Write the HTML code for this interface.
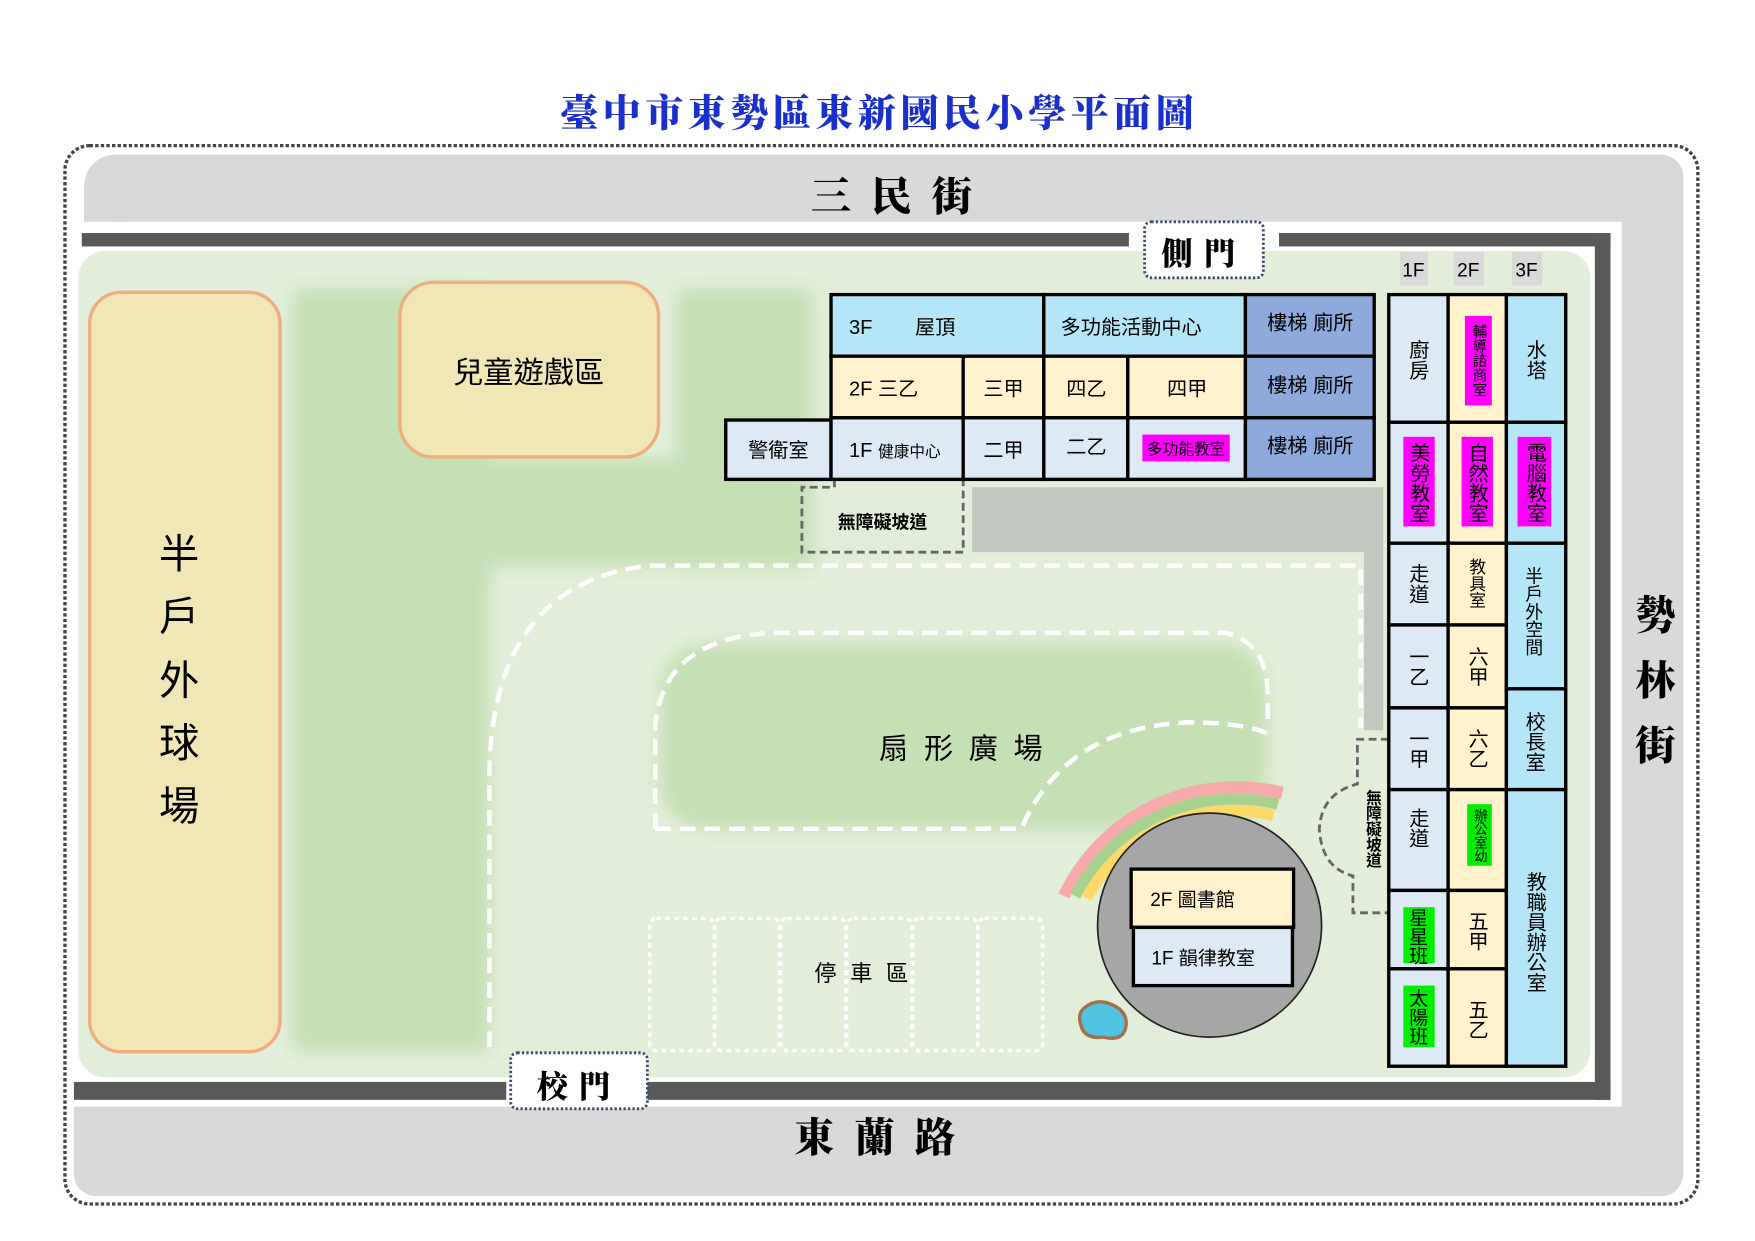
<!DOCTYPE html>
<html><head><meta charset="utf-8">
<style>
html,body{margin:0;padding:0;background:#fff;}
svg{display:block;}
text{font-family:"Liberation Sans","Noto Sans CJK TC",sans-serif;fill:#000;}
.b{font-family:"Liberation Serif","Noto Serif CJK SC",serif;font-weight:900;}
.v{writing-mode:vertical-rl;text-anchor:middle;}
</style></head><body>
<svg width="1755" height="1241" viewBox="0 0 1567 1108" xmlns="http://www.w3.org/2000/svg">
<defs>
<filter id="bl" x="-20%" y="-20%" width="140%" height="140%"><feGaussianBlur stdDeviation="8"/></filter>
</defs>
<rect width="1567" height="1108" fill="#fff"/>
<text x="785" y="113" class="b" font-size="34" style="fill:#1a2fcc" text-anchor="middle" letter-spacing="4">臺中市東勢區東新國民小學平面圖</text>
<rect x="58" y="130" width="1458" height="945" rx="22" fill="none" stroke="#444" stroke-width="3" stroke-dasharray="3 2"/>
<rect x="75" y="138" width="1428" height="60" rx="28" fill="#d9d9d9"/>
<rect x="75" y="170" width="40" height="28" fill="#d9d9d9"/>
<rect x="1448" y="138" width="55" height="930" rx="20" fill="#d9d9d9"/>
<rect x="66" y="988" width="1437" height="80" rx="20" fill="#d9d9d9"/>
<rect x="66" y="988" width="40" height="40" fill="#d9d9d9"/>
<text x="805" y="188" class="b" font-size="36" text-anchor="middle" letter-spacing="18">三民街</text>
<text x="790" y="1028" class="b" font-size="36" text-anchor="middle" letter-spacing="18">東蘭路</text>
<text x="1478" y="562" class="b" font-size="36" text-anchor="middle">勢</text>
<text x="1478" y="620" class="b" font-size="36" text-anchor="middle">林</text>
<text x="1478" y="678" class="b" font-size="36" text-anchor="middle">街</text>
<rect x="73" y="208" width="935" height="12" fill="#595959"/>
<rect x="1142" y="208" width="296" height="12" fill="#595959"/>
<rect x="1424" y="208" width="14" height="774" fill="#595959"/>
<rect x="66" y="966" width="386" height="16" fill="#595959"/>
<rect x="578" y="966" width="860" height="16" fill="#595959"/>
<rect x="70" y="224" width="1350" height="738" rx="24" fill="#e2eed9"/>
<g filter="url(#bl)" fill="#c5e0b4">
<rect x="262" y="258" width="175" height="680"/>
<rect x="340" y="410" width="380" height="95"/>
<rect x="605" y="258" width="120" height="250"/>
<rect x="590" y="575" width="540" height="165" rx="40"/>
</g>
<rect x="80" y="261" width="170" height="678" rx="28" fill="#f0e6b6" stroke="#eeae7f" stroke-width="3"/>
<g font-size="36" text-anchor="middle">
<text x="160" y="507">半</text><text x="160" y="563">戶</text><text x="160" y="620">外</text><text x="160" y="676">球</text><text x="160" y="732">場</text>
</g>
<rect x="357" y="252" width="231" height="156" rx="30" fill="#f0e6b6" stroke="#eeae7f" stroke-width="3"/>
<text x="472" y="342" font-size="27" text-anchor="middle">兒童遊戲區</text>
<g fill="none" stroke="#fff" stroke-width="4" stroke-dasharray="14 8">
<path d="M437 935 L437 690 Q440 520 580 505 L1215 505 L1215 650"/>
<path d="M585 740 L585 650 Q590 570 690 565 L1095 565 Q1132 575 1132 620 L1132 648"/>
<path d="M585 740 L912 740 Q950 650 1060 645 Q1110 645 1132 655"/>
</g>
<g fill="none" stroke="#fff" stroke-width="3" stroke-dasharray="4 4">
<rect x="580" y="820" width="58" height="118" rx="6"/>
<rect x="638" y="820" width="58" height="118" rx="6"/>
<rect x="697" y="820" width="58" height="118" rx="6"/>
<rect x="756" y="820" width="58" height="118" rx="6"/>
<rect x="815" y="820" width="58" height="118" rx="6"/>
<rect x="873" y="820" width="58" height="118" rx="6"/>
</g>
<text x="775" y="876" font-size="20" text-anchor="middle" letter-spacing="12">停車區</text>
<text x="865" y="677" font-size="26" text-anchor="middle" letter-spacing="14">扇形廣場</text>
<rect x="868" y="435" width="367" height="58" fill="#c0c8bf"/>
<rect x="1218" y="493" width="17" height="159" fill="#c0c8bf"/>
<path d="M745 428 L745 435 L716 435 L716 493 L860 493 L860 428" fill="none" stroke="#666" stroke-width="2.5" stroke-dasharray="7 4"/>
<text x="788" y="472" font-size="16" text-anchor="middle" font-weight="bold">無障礙坡道</text>
<path d="M1240 660 L1212 660 L1212 700 Q1180 708 1178 740 Q1180 775 1208 782 L1208 815 L1240 815" fill="none" stroke="#666" stroke-width="2.5" stroke-dasharray="7 4"/>
<text x="1225" y="740" font-size="14" class="v" font-weight="bold">無障礙坡道</text>
<g stroke="#000" stroke-width="3">
<rect x="742" y="263" width="190" height="55" fill="#b4e6f8"/>
<rect x="932" y="263" width="180" height="55" fill="#b4e6f8"/>
<rect x="1112" y="263" width="115" height="55" fill="#8eaadb"/>
<rect x="742" y="318" width="118" height="55" fill="#fff2cc"/>
<rect x="860" y="318" width="72" height="55" fill="#fff2cc"/>
<rect x="932" y="318" width="75" height="55" fill="#fff2cc"/>
<rect x="1007" y="318" width="105" height="55" fill="#fff2cc"/>
<rect x="1112" y="318" width="115" height="55" fill="#8eaadb"/>
<rect x="648" y="375" width="94" height="53" fill="#dde9f5"/>
<rect x="742" y="373" width="118" height="55" fill="#dde9f5"/>
<rect x="860" y="373" width="72" height="55" fill="#dde9f5"/>
<rect x="932" y="373" width="75" height="55" fill="#dde9f5"/>
<rect x="1007" y="373" width="105" height="55" fill="#dde9f5"/>
<rect x="1112" y="373" width="115" height="55" fill="#8eaadb"/>
</g>
<rect x="1020" y="388" width="78" height="24" fill="#ff00ff"/>
<g font-size="18">
<text x="758" y="298">3F</text><text x="817" y="298">屋頂</text>
<text x="947" y="298">多功能活動中心</text>
<text x="1170" y="294" text-anchor="middle">樓梯 廁所</text>
<text x="758" y="353">2F 三乙</text>
<text x="896" y="353" text-anchor="middle">三甲</text>
<text x="970" y="353" text-anchor="middle">四乙</text>
<text x="1060" y="353" text-anchor="middle">四甲</text>
<text x="1170" y="350" text-anchor="middle">樓梯 廁所</text>
<text x="695" y="408" text-anchor="middle">警衛室</text>
<text x="758" y="408">1F <tspan font-size="14">健康中心</tspan></text>
<text x="896" y="408" text-anchor="middle">二甲</text>
<text x="970" y="405" text-anchor="middle">二乙</text>
<text x="1059" y="406" text-anchor="middle" font-size="14">多功能教室</text>
<text x="1170" y="404" text-anchor="middle">樓梯 廁所</text>
</g>
<rect x="1250" y="225" width="25" height="30" fill="#d9d9d9"/>
<rect x="1298" y="225" width="27" height="30" fill="#d9d9d9"/>
<rect x="1350" y="225" width="27" height="30" fill="#d9d9d9"/>
<g font-size="17" text-anchor="middle"><text x="1262" y="247">1F</text><text x="1311" y="247">2F</text><text x="1363" y="247">3F</text></g>
<g stroke="#000" stroke-width="3">
<g fill="#dde9f5">
<rect x="1240" y="263" width="53" height="114"/><rect x="1240" y="377" width="53" height="108"/>
<rect x="1240" y="485" width="53" height="73"/><rect x="1240" y="558" width="53" height="74"/>
<rect x="1240" y="632" width="53" height="73"/><rect x="1240" y="705" width="53" height="90"/>
<rect x="1240" y="795" width="53" height="70"/><rect x="1240" y="865" width="53" height="87"/>
</g>
<g fill="#fff2cc">
<rect x="1293" y="263" width="52" height="114"/><rect x="1293" y="377" width="52" height="108"/>
<rect x="1293" y="485" width="52" height="73"/><rect x="1293" y="558" width="52" height="74"/>
<rect x="1293" y="632" width="52" height="73"/><rect x="1293" y="705" width="52" height="90"/>
<rect x="1293" y="795" width="52" height="70"/><rect x="1293" y="865" width="52" height="87"/>
</g>
<g fill="#b4e6f8">
<rect x="1345" y="263" width="53" height="114"/><rect x="1345" y="377" width="53" height="108"/>
<rect x="1345" y="485" width="53" height="130"/><rect x="1345" y="615" width="53" height="90"/>
<rect x="1345" y="705" width="53" height="247"/>
</g>
</g>
<g fill="#ff00ff">
<rect x="1308" y="282" width="24" height="80"/>
<rect x="1253" y="390" width="28" height="80"/>
<rect x="1305" y="390" width="28" height="80"/>
<rect x="1355" y="390" width="30" height="80"/>
</g>
<g fill="#00ee00">
<rect x="1310" y="718" width="22" height="55"/>
<rect x="1253" y="810" width="28" height="50"/>
<rect x="1253" y="880" width="28" height="55"/>
</g>
<g font-size="18">
<text x="1265" y="321" class="v">廚房</text>
<text x="1320" y="322" class="v" font-size="13">輔導諮商室</text>
<text x="1370" y="321" class="v">水塔</text>
<text x="1266" y="431" class="v">美勞教室</text>
<text x="1318" y="431" class="v">自然教室</text>
<text x="1370" y="431" class="v">電腦教室</text>
<text x="1265" y="521" class="v">走道</text>
<text x="1318" y="521" class="v" font-size="15">教具室</text>
<text x="1369" y="546" class="v" font-size="16">半戶外空間</text>
<text x="1265" y="595" class="v">一乙</text>
<text x="1318" y="595" class="v">六甲</text>
<text x="1265" y="668" class="v">一甲</text>
<text x="1318" y="668" class="v">六乙</text>
<text x="1369" y="662" class="v">校長室</text>
<text x="1265" y="739" class="v">走道</text>
<text x="1321" y="746" class="v" font-size="12">辦公室幼</text>
<text x="1265" y="836" class="v" font-size="17">星星班</text>
<text x="1318" y="831" class="v">五甲</text>
<text x="1265" y="908" class="v" font-size="17">太陽班</text>
<text x="1318" y="910" class="v">五乙</text>
<text x="1370" y="832" class="v">教職員辦公室</text>
</g>
<path d="M950 800 A170 170 0 0 1 1145 708" fill="none" stroke="#f8aaaa" stroke-width="11"/>
<path d="M960 800 A160 160 0 0 1 1141 718" fill="none" stroke="#a9d18e" stroke-width="10"/>
<path d="M970 802 A150 150 0 0 1 1137 728" fill="none" stroke="#ffd966" stroke-width="10"/>
<circle cx="1080" cy="826" r="100" fill="#a6a6a6" stroke="#222" stroke-width="1.5"/>
<rect x="1010" y="776" width="145" height="52" fill="#fff2cc" stroke="#000" stroke-width="3"/>
<rect x="1012" y="828" width="142" height="52" fill="#dde9f5" stroke="#000" stroke-width="3"/>
<text x="1027" y="809" font-size="17">2F 圖書館</text>
<text x="1028" y="861" font-size="17">1F 韻律教室</text>
<path d="M968 900 Q980 890 995 898 Q1008 905 1005 918 Q1002 930 985 926 Q968 928 965 915 Q962 905 968 900Z" fill="#4fc3e0" stroke="#a0704a" stroke-width="3"/>
<rect x="1022" y="198" width="106" height="50" rx="6" fill="#fff" stroke="#3a4a6a" stroke-width="2.5" stroke-dasharray="2 2"/>
<text x="1075" y="236" class="b" font-size="28" text-anchor="middle" letter-spacing="10">側門</text>
<rect x="456" y="940" width="122" height="50" rx="6" fill="#fff" stroke="#3a4a6a" stroke-width="2.5" stroke-dasharray="2 2"/>
<text x="517" y="980" class="b" font-size="28" text-anchor="middle" letter-spacing="10">校門</text>
</svg>
</body></html>
